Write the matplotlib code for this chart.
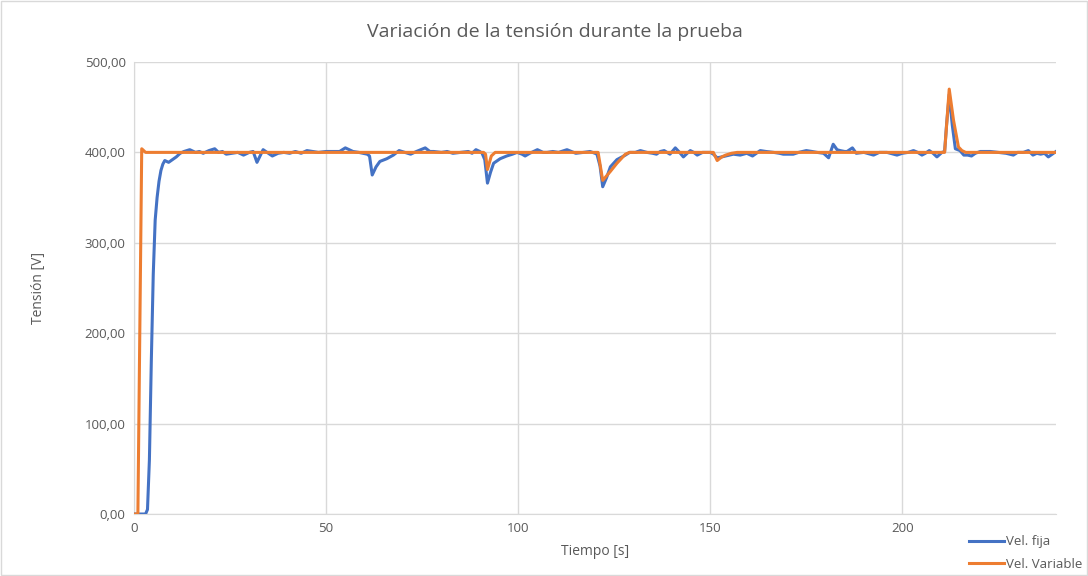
import matplotlib.pyplot as plt
from matplotlib.patches import Rectangle
from matplotlib.ticker import FuncFormatter

# Tensión registrada con velocidad fija (s, V)
t_fija = [0, 1, 2, 3, 3.5, 4, 4.5, 5, 5.5, 6, 6.5, 7, 7.5, 8, 9, 10, 11,
          12, 13, 14.5, 16, 17, 18, 19.5, 21, 22, 23, 24, 25.5, 27, 28.5, 30,
          31, 32, 33.6, 35, 36, 37.5, 39, 40.5, 42, 43.5, 45, 46.5, 48, 50,
          52, 53.5, 55, 56, 57, 58.5, 60.7, 61.3, 62, 63, 64, 65.8, 67.5, 69,
          70.5, 72, 73.5, 75.8, 77, 78, 80, 81.5, 83, 85, 87, 88, 89, 90,
          90.6, 91.3, 92, 92.8, 93.6, 95.3, 97, 98.5, 99.7, 101, 101.8, 103,
          105, 106.5, 107.5, 109, 110.5, 112.7, 115, 117, 118.7, 120, 120.5,
          121.3, 122, 123, 124, 125.7, 127.9, 129, 130.5, 131.8, 133.5, 135,
          136, 137, 138, 139.5, 140.9, 142, 143, 144, 144.8, 145.7, 146.6,
          148, 149, 150, 150.8, 151.8, 153, 154, 156, 157.8, 159.5, 161, 162,
          163, 164.5, 166.5, 168, 169, 171.6, 173, 175, 176.5, 177.8, 179.5,
          180.8, 182, 183, 183.8, 185, 185.6, 187, 188, 190, 192.5, 194, 196,
          198.6, 200, 201.5, 202.9, 204, 205.1, 206, 207, 208, 209, 210.3,
          211, 211.5, 212.2, 213, 213.8, 215, 216, 217, 218, 219, 220.3,
          222.9, 225, 227, 228.9, 230, 231.5, 232.8, 234, 235, 236, 237, 238,
          239, 240]
v_fija = [0, 0, 0, 0, 5, 60, 170, 265, 325, 350, 368, 380, 387, 391, 389,
          392, 395, 399, 401, 403, 400, 401, 399, 402, 404, 400, 401, 398,
          399, 400, 397, 400, 401, 389, 403, 399, 396, 399, 400, 399, 401,
          399, 402, 401, 400, 401, 401, 401, 405, 403, 401, 400, 398, 396,
          375, 384, 390, 393, 397, 402, 400, 398, 401, 405, 401, 401, 400,
          401, 399, 400, 401, 399, 403, 401, 399, 392, 366, 378, 388, 393,
          396, 398, 400, 398, 396, 399, 403, 400, 400, 401, 400, 403, 399,
          400, 401, 399, 398, 385, 362, 372, 384, 392, 397, 400, 400, 402,
          400, 399, 398, 401, 402, 398, 405, 400, 395, 399, 402, 400, 397,
          400, 400, 400, 398, 394, 395, 396, 398, 397, 399, 396, 399, 402,
          401, 400, 399, 398, 398, 400, 402, 401, 400, 399, 394, 409, 403,
          402, 401, 401, 405, 399, 400, 397, 400, 400, 397, 399, 400, 402,
          400, 397, 399, 402, 399, 395, 400, 401, 430, 464, 430, 404, 402,
          397, 397, 396, 399, 401, 401, 400, 399, 397, 400, 400, 402, 397,
          399, 398, 399, 395, 398, 401]

# Tensión registrada con velocidad variable (s, V)
t_var = [0, 1, 2, 3, 91, 91.5, 92, 93, 94, 120.8, 122, 124, 125.7, 127.9,
         129, 150.8, 151.8, 153, 154, 155.5, 157, 211, 212.2, 213.3, 214.6,
         215.5, 216.5, 240]
v_var = [0, 0, 404, 400, 400, 398, 381, 396, 400, 400, 369, 379, 388, 398,
         400, 400, 391, 395, 397, 399, 400, 400, 470, 436, 406, 402, 400, 400]

x_ticks = [0, 50, 100, 150, 200]
y_ticks = [0, 100, 200, 300, 400, 500]

txt = '#595959'
grid = '#d9d9d9'

plt.rcParams['font.family'] = ['Open Sans', 'DejaVu Sans']

fig = plt.figure(figsize=(10.88, 5.76), dpi=100)
ax = fig.add_axes([0.1232, 0.1076, 0.8474, 0.7848])

ax.plot(t_fija, v_fija, color='#4472C4', lw=2.2, solid_joinstyle='round',
        label='Vel. fija', zorder=3)
ax.plot(t_var, v_var, color='#ED7D31', lw=2.2, solid_joinstyle='round',
        label='Vel. Variable', zorder=4)

ax.set_xlim(0, 240)
ax.set_ylim(0, 500)
ax.set_xticks(x_ticks)
ax.set_yticks(y_ticks)
ax.yaxis.set_major_formatter(FuncFormatter(lambda v, p: f'{v:.2f}'.replace('.', ',')))
ax.grid(True, color=grid, lw=1, zorder=0)
ax.tick_params(length=0, labelsize=9.5, labelcolor=txt, pad=6)
for s in ['top', 'right']:
    ax.spines[s].set_visible(False)
for s in ['left', 'bottom']:
    ax.spines[s].set_color(grid)

ax.set_xlabel('Tiempo [s]', fontsize=10, color=txt, labelpad=6)
ax.set_ylabel('Tensión [V]', fontsize=10, color=txt, labelpad=28)
fig.text(0.51, 0.944, 'Variación de la tensión durante la prueba',
         ha='center', va='center', fontsize=14, color=txt)

fig.legend(loc='lower right', bbox_to_anchor=(1.006, -0.012), frameon=False,
           fontsize=9.5, labelcolor=txt, handlelength=2.6, handletextpad=0.2,
           labelspacing=0.75)

fig.patches.append(Rectangle((0.001, 0.001), 0.998, 0.998, transform=fig.transFigure,
                             fill=False, edgecolor=grid, lw=1))

fig.savefig('out.png', dpi=100)
